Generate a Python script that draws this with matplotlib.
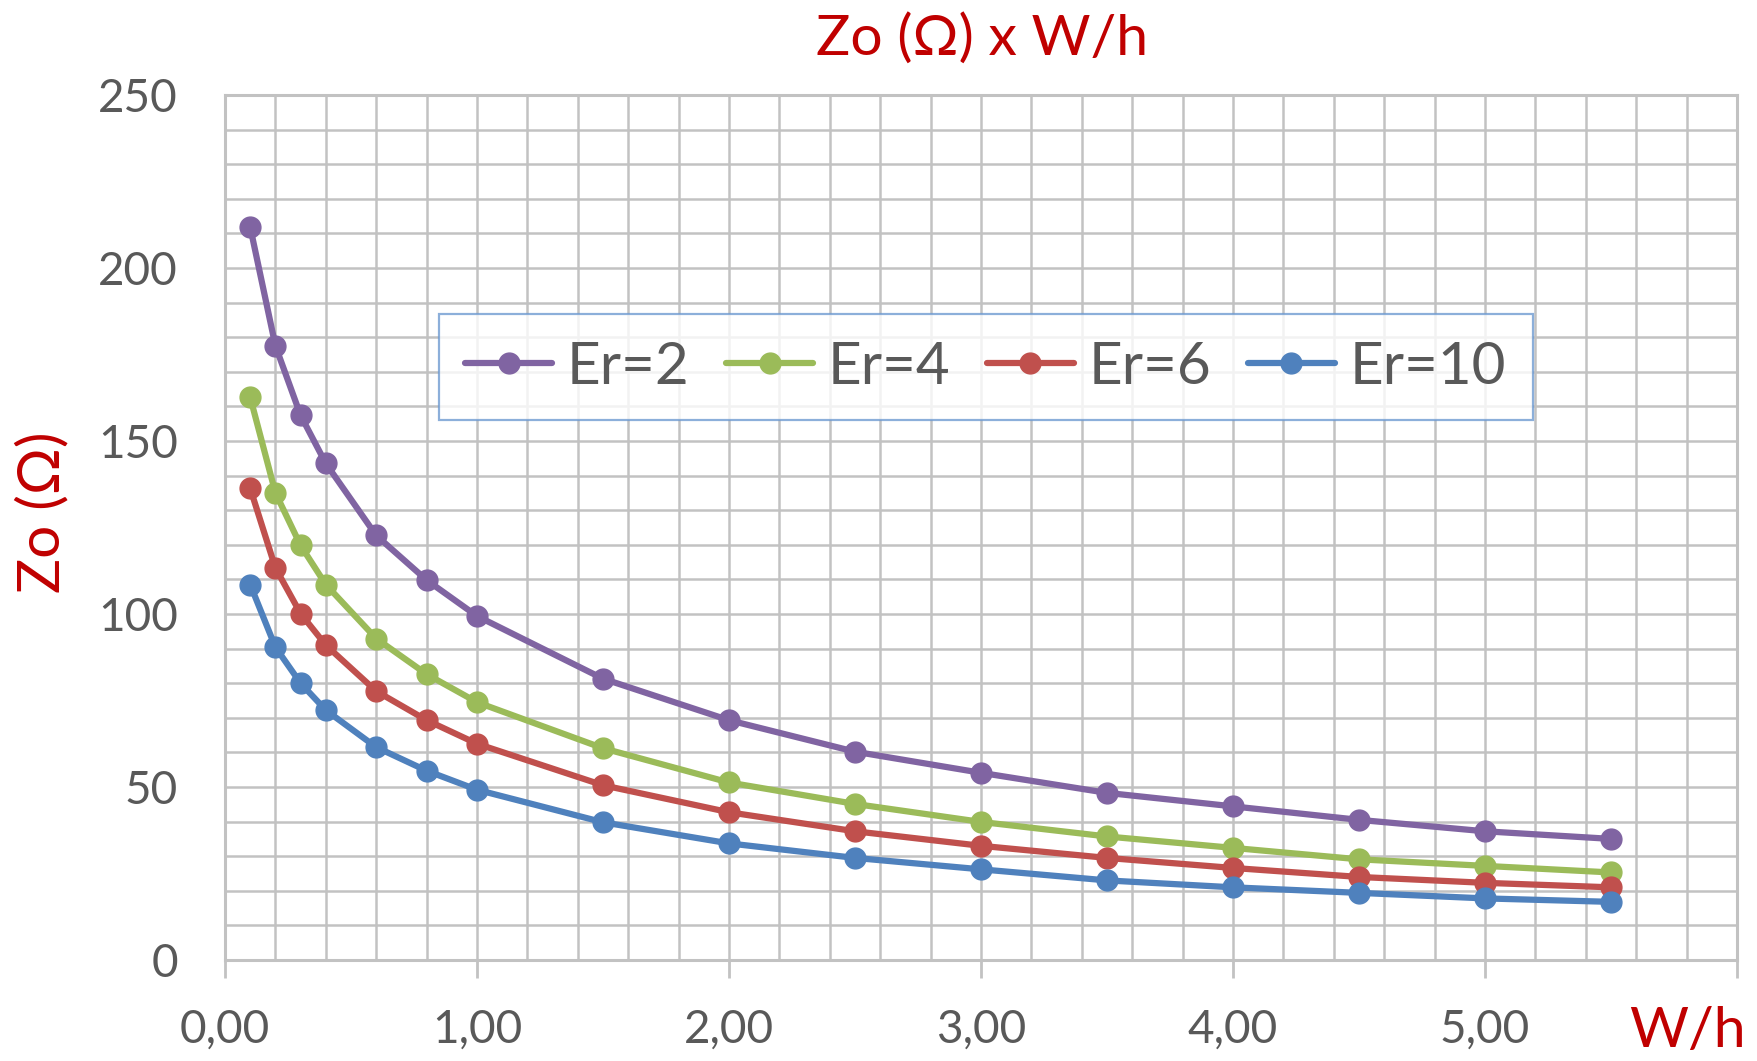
import numpy as np
import matplotlib
matplotlib.use('Agg')
import matplotlib.pyplot as plt
from matplotlib.ticker import MultipleLocator, FuncFormatter

plt.rcParams['font.family'] = ['Lato', 'DejaVu Sans']

# W/h values and Zo (ohm)
wh = [0.1, 0.2, 0.3, 0.4, 0.6, 0.8, 1.0, 1.5, 2.0, 2.5, 3.0, 3.5, 4.0, 4.5, 5.0, 5.5]
zo_er2 = [211.8, 177.5, 157.4, 143.5, 122.7, 109.8, 99.4, 81.3, 69.3, 60.2, 54.1, 48.3, 44.4, 40.5, 37.2, 35.0]
zo_er4 = [162.6, 135.0, 119.8, 108.5, 92.9, 82.6, 74.5, 61.2, 51.3, 45.1, 39.9, 35.7, 32.4, 29.1, 27.2, 25.3]
zo_er6 = [136.3, 113.3, 100.1, 91.0, 77.7, 69.3, 62.5, 50.5, 42.7, 37.2, 33.0, 29.5, 26.6, 24.0, 22.3, 21.0]
zo_er10 = [108.5, 90.4, 80.0, 72.2, 61.5, 54.7, 49.2, 39.8, 33.7, 29.5, 26.2, 23.0, 21.0, 19.4, 17.8, 16.8]

series = [("Er=2", zo_er2, '#8064A2'),
          ("Er=4", zo_er4, '#9BBB59'),
          ("Er=6", zo_er6, '#C0504D'),
          ("Er=10", zo_er10, '#4F81BD')]

red = '#C00000'
gray_txt = '#595959'
grid_col = '#c2c2c2'

def fmt_x(v, pos):
    # Excel style comma decimals, last tick (6) has no label
    if v > 5.5:
        return ''
    return ('%.2f' % v).replace('.', ',')

fig = plt.figure(figsize=(17.58, 10.61), dpi=100)
ax = fig.add_axes([0.128, 0.0952, 0.86, 0.8153])

for name, vals, col in series:
    ax.plot(wh, vals, color=col, lw=4.5, marker='o', markersize=15, label=name,
            solid_capstyle='round', solid_joinstyle='round')

ax.set_xlim(0, 6)
ax.set_ylim(0, 250)
ax.xaxis.set_major_locator(MultipleLocator(1))
ax.xaxis.set_minor_locator(MultipleLocator(0.2))
ax.yaxis.set_major_locator(MultipleLocator(50))
ax.yaxis.set_minor_locator(MultipleLocator(10))
ax.xaxis.set_major_formatter(FuncFormatter(fmt_x))

ax.grid(which='both', color=grid_col, lw=1.8)
ax.set_axisbelow(True)
for s in ax.spines.values():
    s.set_color(grid_col)
    s.set_linewidth(2.2)

ax.tick_params(axis='x', which='major', length=13, width=2, color=grid_col,
               labelsize=33, labelcolor=gray_txt, pad=22)
ax.tick_params(axis='y', which='major', length=0, labelsize=33, labelcolor=gray_txt, pad=34)
ax.tick_params(which='minor', length=0)

fig.text(0.5585, 0.963, 'Zo (Ω) x W/h', color=red, fontsize=41, ha='center', va='center')
fig.text(0.024, 0.517, 'Zo (Ω)', color=red, fontsize=42, rotation=90, ha='center', va='center')
fig.text(0.993, 0.028, 'W/h', color=red, fontsize=41, ha='right', va='center')

leg = ax.legend(loc='center', bbox_to_anchor=(0.5606, 0.654), bbox_transform=fig.transFigure,
                ncol=4, fontsize=42, handlelength=1.5, handletextpad=0.25, columnspacing=0.62,
                frameon=True, fancybox=False, borderpad=0.45, labelcolor=gray_txt)
leg.get_frame().set_edgecolor('#6f9bd1')
leg.get_frame().set_linewidth(1.6)

fig.savefig('out.png', dpi=100, facecolor='white')
